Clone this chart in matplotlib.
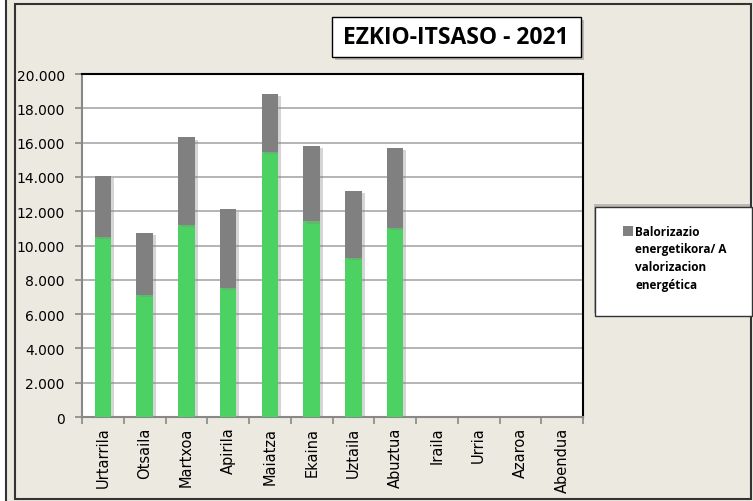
import numpy as np
import matplotlib.pyplot as plt
from matplotlib.patches import Rectangle
import matplotlib.patheffects as pe

months = ['Urtarrila', 'Otsaila', 'Martxoa', 'Apirila', 'Maiatza', 'Ekaina',
          'Uztaila', 'Abuztua', 'Iraila', 'Urria', 'Azaroa', 'Abendua']
# green base series and grey series on top (values in kg)
green_vals = [10500, 7100, 11200, 7500, 15450, 11400, 9300, 11000, 0, 0, 0, 0]
grey_vals = [3550, 3630, 5100, 4600, 3380, 4400, 3900, 4700, 0, 0, 0, 0]
yticks = [0, 2000, 4000, 6000, 8000, 10000, 12000, 14000, 16000, 18000, 20000]
title = 'EZKIO-ITSASO - 2021'
legend_label = 'Balorizazio\nenergetikora/ A\nvalorizacion\nenergética'

bg = '#ECE9E0'
green = '#4CD263'
grey = '#808080'

W, H = 753, 502
fig = plt.figure(figsize=(7.53, 5.02), dpi=100, facecolor=bg)


def fx(px):
    return px / W


def fy(py):
    return 1 - py / H


# outer frame lines
fig.patches.append(Rectangle((0, 0), fx(6), 1, transform=fig.transFigure,
                             facecolor='white', edgecolor='none'))
fig.lines.append(plt.Line2D([fx(6), fx(6)], [0, 1], transform=fig.transFigure,
                            color='#333333', lw=1.5))
fig.patches.append(Rectangle((fx(15), fy(500)), fx(736), 495 / H,
                             transform=fig.transFigure, facecolor='none',
                             edgecolor='#333333', lw=1.5))

ax = fig.add_axes([fx(82), fy(418), fx(501), 343 / H])
ax.set_facecolor('white')
x = np.arange(len(months))
shadow = [pe.SimplePatchShadow(offset=(2, -1.5), shadow_rgbFace='#888888', alpha=0.35), pe.Normal()]
b1 = ax.bar(x, green_vals, width=0.4, color=green, zorder=3)
b2 = ax.bar(x, grey_vals, width=0.4, bottom=green_vals, color=grey, zorder=3)
for r in list(b1) + list(b2):
    r.set_path_effects(shadow)

ax.set_xlim(-0.5, 11.5)
ax.set_ylim(0, 20000)
ax.set_yticks(yticks)
ax.set_yticklabels(['{:,}'.format(v).replace(',', '.') for v in yticks],
                   fontsize=10, family='DejaVu Sans')
ax.set_xticks(x)
ax.set_xticklabels(months, rotation=90, fontsize=10.5, family='DejaVu Sans')
ax.tick_params(axis='x', length=0, pad=7)
ax.set_xticks(np.arange(-0.5, 12, 1), minor=True)
ax.tick_params(axis='x', which='minor', length=5, color='#888888', width=1.2)
ax.tick_params(axis='y', length=5, color='#888888', width=1.2, pad=7.5)
ax.yaxis.grid(True, color='#A8A8A8', lw=1.2, zorder=0)
ax.set_axisbelow(True)
for side in ['left', 'bottom']:
    ax.spines[side].set_color('#888888')
    ax.spines[side].set_linewidth(1.5)
for side in ['top', 'right']:
    ax.spines[side].set_color('black')
    ax.spines[side].set_linewidth(1.5)

# title box
fig.patches.append(Rectangle((fx(332), fy(58)), fx(249), 40 / H, transform=fig.transFigure,
                             facecolor='white', edgecolor='black', lw=1,
                             path_effects=[pe.SimplePatchShadow(offset=(2, -2), alpha=0.3), pe.Normal()]))
fig.text(fx(456), fy(38), title, ha='center', va='center',
         fontsize=16.5, fontweight='bold', family='Open Sans')

# legend box
fig.patches.append(Rectangle((fx(595), fy(317)), fx(157), 109 / H, transform=fig.transFigure,
                             facecolor='white', edgecolor='#333333', lw=1,
                             path_effects=[pe.SimplePatchShadow(offset=(-1, 2), alpha=0.3), pe.Normal()]))
fig.patches.append(Rectangle((fx(623), fy(237)), fx(10), 10 / H, transform=fig.transFigure,
                             facecolor=grey, edgecolor='none'))
fig.text(fx(635), fy(226), legend_label, ha='left', va='top', fontsize=8.5,
         fontweight='bold', family='Open Sans', linespacing=1.45)

fig.savefig('out.png', dpi=100, facecolor=bg)
